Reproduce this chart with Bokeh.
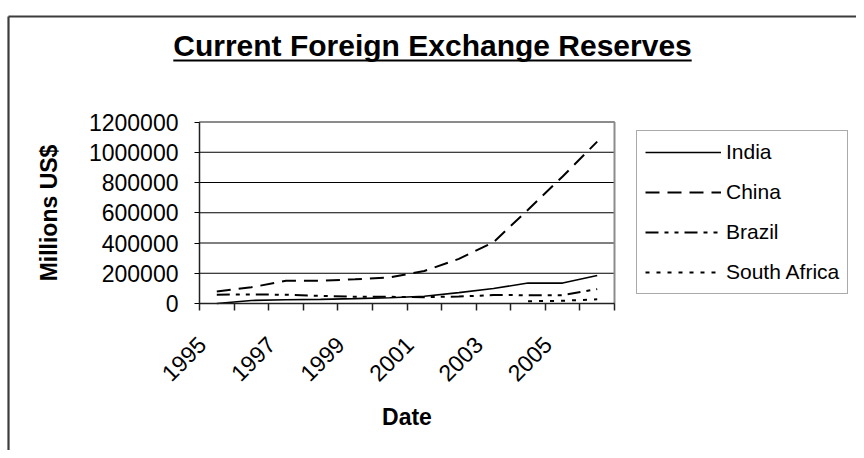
import numpy as np
from math import pi
from bokeh.plotting import figure
from bokeh.models import (ColumnDataSource, FixedTicker, NumeralTickFormatter, CustomJSTickFormatter,
                          Range1d, Label, LinearAxis)
from bokeh.embed import file_html
from bokeh.resources import INLINE

# ---- data ----
years = [1995, 1996, 1997, 1998, 1999, 2000, 2001, 2002, 2003, 2004, 2005, 2006]
india = [0, 20000, 24500, 27000, 32000, 38000, 48000, 72000, 99000, 135000, 135000, 185000]
china = [80000, 107000, 150000, 150000, 160000, 172000, 215000, 295000, 405000, 620000, 840000, 1070000]
brazil = [58000, 60000, 58000, 50000, 45000, 44000, 42000, 46000, 56000, 55000, 55000, 95000]
south_africa = [None, None, None, None, None, None, None, None, None, 15000, 18000, 28000]
series_names = ["India", "China", "Brazil", "South Africa"]
x_tick_labels = [1995, 1997, 1999, 2001, 2003, 2005]
y_ticks = [0, 200000, 400000, 600000, 800000, 1000000, 1200000]
title_text = "Current Foreign Exchange Reserves"

FONT = "Liberation Sans"
W, H = 856, 450
PL, PR, PT, PB = 199, 614, 121.5, 303   # plot area in canvas pixels

def arr(v):
    return np.array([np.nan if a is None else a for a in v], dtype=float)

src = ColumnDataSource(dict(year=years, india=arr(india), china=arr(china),
                            brazil=arr(brazil), sa=arr(south_africa)))

x0, x1 = years[0] - 0.5, years[-1] + 0.5
y0, y1 = y_ticks[0], y_ticks[-1]
sx = (x1 - x0) / (PR - PL)
sy = (y1 - y0) / (PB - PT)

def px2x(cx):
    return x0 + (cx - PL) * sx

def px2y(cy):
    return y0 + (PB - cy) * sy

p = figure(width=W, height=H, output_backend="svg", toolbar_location=None, title=None,
           x_range=Range1d(px2x(0), px2x(W)), y_range=Range1d(px2y(H), px2y(0)),
           x_axis_type=None, y_axis_type=None, min_border=0,
           background_fill_color="white", border_fill_color="white")
p.outline_line_color = None

# outer chart border (top and left visible)
p.segment(x0=[px2x(8), px2x(8)], y0=[px2y(16), px2y(16)], x1=[px2x(W + 5), px2x(8)],
          y1=[px2y(16), px2y(H + 5)], line_color="#3c3c3c", line_width=2.2)

# horizontal grid lines
p.segment(x0=[x0] * len(y_ticks), x1=[x1] * len(y_ticks), y0=y_ticks, y1=y_ticks,
          line_color="black", line_width=1)
# plot-area border (top / right, grey)
p.segment(x0=[x0, x1], y0=[y1, y1], x1=[x1, x1], y1=[y1, y0], line_color="#8c8c8c", line_width=2)

# y axis
yaxis = LinearAxis(ticker=FixedTicker(ticks=y_ticks), formatter=NumeralTickFormatter(format="0"),
                   fixed_location=x0, bounds=(y0, y1))
yaxis.axis_line_color = "#222222"
yaxis.axis_line_width = 1.5
yaxis.major_tick_out = 5
yaxis.major_tick_in = 0
yaxis.minor_tick_line_color = None
yaxis.major_label_text_font = FONT
yaxis.major_label_text_font_size = "23px"
yaxis.major_label_text_color = "black"
yaxis.major_label_standoff = 16
yaxis.axis_label = "Millions US$"
yaxis.axis_label_text_font = FONT
yaxis.axis_label_text_font_size = "23px"
yaxis.axis_label_text_font_style = "bold"
yaxis.axis_label_text_color = "black"
yaxis.axis_label_standoff = 24
p.add_layout(yaxis, "left")

# x axis: boundary ticks (minor) + labels at every other year (label anchor nudged left like Excel)
LABEL_NUDGE = 15 * sx
bounds = [y - 0.5 for y in years] + [years[-1] + 0.5]
xaxis = LinearAxis(ticker=FixedTicker(ticks=[t - LABEL_NUDGE for t in x_tick_labels], minor_ticks=bounds),
                   formatter=CustomJSTickFormatter(args=dict(nudge=LABEL_NUDGE),
                                                   code="return String(Math.round(tick + nudge));"),
                   fixed_location=y0, bounds=(x0, x1))
xaxis.axis_line_color = "#222222"
xaxis.axis_line_width = 1.5
xaxis.major_tick_line_color = None
xaxis.major_tick_out = 0
xaxis.major_tick_in = 0
xaxis.minor_tick_line_color = "#222222"
xaxis.minor_tick_line_width = 1.5
xaxis.minor_tick_out = 7
xaxis.minor_tick_in = 0
xaxis.major_label_orientation = pi / 4
xaxis.major_label_standoff = 30
xaxis.major_label_text_font = FONT
xaxis.major_label_text_font_size = "23px"
xaxis.major_label_text_color = "black"
xaxis.axis_label = "Date"
xaxis.axis_label_text_font = FONT
xaxis.axis_label_text_font_size = "23px"
xaxis.axis_label_text_font_style = "bold"
xaxis.axis_label_text_color = "black"
xaxis.axis_label_standoff = 12
p.add_layout(xaxis, "below")

# series
p.line("year", "india", source=src, line_color="black", line_width=1.6, legend_label=series_names[0])
p.line("year", "china", source=src, line_color="black", line_width=2, line_dash="14 8",
       legend_label=series_names[1])
p.line("year", "brazil", source=src, line_color="black", line_width=2, line_dash="13 6 4 6 4 6",
       legend_label=series_names[2])
p.line("year", "sa", source=src, line_color="black", line_width=2, line_dash="4 7",
       legend_label=series_names[3])

leg = p.legend[0]
leg.location = (636, H - 294)
leg.label_text_font = FONT
leg.label_text_font_size = "21px"
leg.label_text_color = "black"
leg.glyph_width = 76
leg.glyph_height = 26
leg.label_height = 26
leg.label_standoff = 5
leg.spacing = 14
leg.padding = 8
leg.margin = 0
leg.border_line_color = "#555555"
leg.border_line_width = 1
leg.background_fill_color = "white"
leg.background_fill_alpha = 1

# underlined title
TCX, TCY, TFS = 432, 45, 30
half = 0.5 * 17.28 * TFS
p.add_layout(Label(x=px2x(TCX), y=px2y(TCY), text=title_text, text_align="center",
                   text_baseline="middle", text_font=FONT, text_font_size=f"{TFS}px",
                   text_font_style="bold", text_color="black"))
p.segment(x0=[px2x(TCX - half)], y0=[px2y(TCY + 15)], x1=[px2x(TCX + half)], y1=[px2y(TCY + 15)],
          line_color="black", line_width=2)

open("out.html", "w").write(file_html(p, INLINE))
